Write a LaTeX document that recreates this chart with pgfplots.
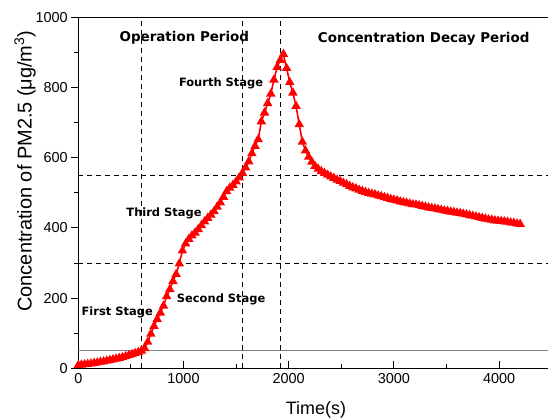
\documentclass[border=0pt]{standalone}
\usepackage{pgfplots}
\pgfplotsset{compat=1.18}
\usepackage{fontspec}
\setmainfont{Liberation Sans}
\newfontfamily\vfont{DejaVu Sans}

\pgfplotstableread{
t c
0 9
30 10
60 11
90 12
120 13
150 15
180 16
210 18
240 19
270 21
300 23
330 25
360 27
390 29
420 31
450 34
480 37
510 40
540 43
570 46
600 50
630 57
660 75
690 98
720 120
750 140
780 158
810 178
840 205
870 225
900 248
930 268
960 298
990 335
1020 355
1050 368
1080 378
1110 386
1140 396
1170 407
1200 418
1230 428
1260 437
1290 447
1320 460
1350 472
1380 488
1410 504
1440 514
1470 522
1500 532
1530 543
1560 556
1590 572
1620 589
1650 612
1680 633
1710 652
1740 703
1770 728
1800 755
1830 782
1860 822
1890 858
1920 878
1950 895
1980 855
2010 815
2040 785
2070 747
2100 695
2130 645
2160 620
2190 602
2220 588
2250 576
2280 568
2310 561
2340 556
2370 551
2400 546
2430 542
2460 537
2490 533
2520 528
2550 524
2580 519
2610 515
2640 512
2670 508
2700 505
2730 502
2760 499
2790 497
2820 495
2850 492
2880 490
2910 487
2940 485
2970 482
3000 480
3030 478
3060 475
3090 473
3120 471
3150 469
3180 467
3210 466
3240 464
3270 462
3300 460
3330 458
3360 456
3390 455
3420 453
3450 451
3480 449
3510 448
3540 446
3570 445
3600 443
3630 442
3660 440
3690 438
3720 436
3750 434
3780 432
3810 430
3840 428
3870 426
3900 424
3930 423
3960 421
3990 420
4020 419
4050 418
4080 417
4110 415
4140 414
4170 412
4200 411
}\pmdata

\begin{document}
\begin{tikzpicture}
\begin{axis}[
    at={(0,0)}, anchor=south west,
    scale only axis,
    width=469.7bp, height=351bp,
    xmin=0, xmax=4465, ymin=0, ymax=1000,
    axis x line*=box, axis y line*=left,
    axis line style={-, line width=1bp},
    xtick={0,1000,2000,3000,4000},
    ytick={0,200,400,600,800,1000},
    minor x tick num=1, minor y tick num=1,
    xtick align=inside, ytick align=outside,
    xtick pos=bottom, ytick pos=left,
    major tick length=7bp, minor tick length=4bp,
    tick style={black, line width=0.8bp},
    /pgf/number format/assume math mode=true,
    /pgf/number format/1000 sep={},
    ticklabel style={font=\fontsize{14.5}{16}\selectfont},
    xticklabel style={yshift=-2bp},
    xlabel={Time(s)},
    ylabel={Concentration of PM2.5 (μg/m\textsuperscript{3})},
    xlabel style={font=\fontsize{18}{20}\selectfont, at={(axis description cs:0.506,-0.119)}, anchor=center},
    ylabel style={font=\fontsize{20}{22}\selectfont, at={(axis description cs:-0.1135,0.562)}, anchor=center},
    clip=false,
]
% reference lines
\addplot[black, dashed, line width=0.8bp, dash pattern=on 5bp off 4bp] coordinates {(600,0) (600,1000)};
\addplot[black, dashed, line width=0.8bp, dash pattern=on 5bp off 4bp] coordinates {(1560,0) (1560,1000)};
\addplot[black, dashed, line width=0.8bp, dash pattern=on 5bp off 4bp] coordinates {(1925,0) (1925,1000)};
\addplot[black, dashed, line width=0.8bp, dash pattern=on 5bp off 4bp] coordinates {(0,550) (4465,550)};
\addplot[black, dashed, line width=0.8bp, dash pattern=on 5bp off 4bp] coordinates {(0,300) (4465,300)};
\addplot[gray, line width=1.2bp] coordinates {(0,50) (4465,50)};
% measured concentration
\addplot[red, line width=1.6bp, mark=triangle*, mark size=3.9bp, mark options={fill=red, draw=red}] table[x=t, y=c] {\pmdata};

\node[font=\vfont\bfseries\fontsize{13.5}{15}\selectfont] at (axis cs:1008,943) {Operation Period};
\node[font=\vfont\bfseries\fontsize{13.5}{15}\selectfont] at (axis cs:3283,940) {Concentration Decay Period};
\node[font=\vfont\bfseries\fontsize{11.5}{13}\selectfont] at (axis cs:1357,813) {Fourth Stage};
\node[font=\vfont\bfseries\fontsize{11.5}{13}\selectfont] at (axis cs:815,442) {Third Stage};
\node[font=\vfont\bfseries\fontsize{11.5}{13}\selectfont] at (axis cs:1358,195) {Second Stage};
\node[font=\vfont\bfseries\fontsize{11.5}{13}\selectfont] at (axis cs:370,158) {First Stage};
\end{axis}
\pgfresetboundingbox
\path[use as bounding box] (-78.3bp,-51.7bp) rectangle (469.7bp,368.3bp);
\end{tikzpicture}
\end{document}
